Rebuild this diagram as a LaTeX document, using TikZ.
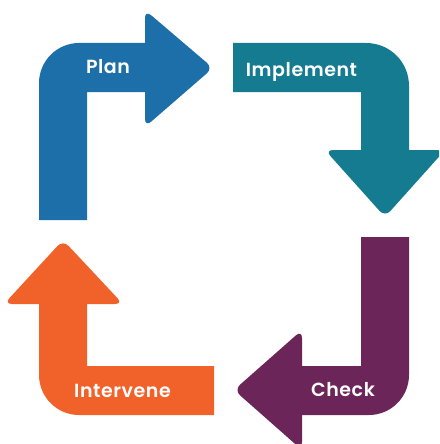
\documentclass[tikz,border=0pt]{standalone}
\usepackage{fontspec}
\setmainfont{Poppins}[LetterSpace=3, BoldFont={Poppins SemiBold}]
\definecolor{planblue}{HTML}{1D6FA9}
\definecolor{impteal}{HTML}{147B90}
\definecolor{chkpurple}{HTML}{6C2558}
\definecolor{intorange}{HTML}{F1622A}
\tikzset{
  headshape/.style={rounded corners=8pt},
  lbl/.style={text=white, font=\fontsize{19}{21}\selectfont\bfseries, inner sep=0pt}
}
\begin{document}
\begin{tikzpicture}[x=1pt,y=-1pt]
\useasboundingbox (0,0) rectangle (439,444);
\clip (0,0) rectangle (439,444);
% Plan
\fill[planblue] (39,220) -- (39,83) .. controls (39,61) and (57,43) .. (79,43) -- (150,43) -- (150,92) -- (87,92) -- (87,220) -- cycle;
\fill[planblue, headshape] (145,68) -- (145,10) -- (213,68) -- (145,127) -- cycle;
% Implement
\fill[impteal] (233,43) -- (366,43) .. controls (390,43) and (409,62) .. (409,86) -- (409,155) -- (361,155) -- (361,92) -- (233,92) -- cycle;
\fill[impteal, headshape] (385,150) -- (445,150) -- (385,217) -- (325,150) -- cycle;
% Check
\fill[chkpurple] (361,237) -- (409,237) -- (409,375) .. controls (409,397) and (391,415) .. (369,415) -- (297,415) -- (297,366) -- (361,366) -- cycle;
\fill[chkpurple, headshape] (302,390) -- (302,330) -- (234,390) -- (302,450) -- cycle;
% Intervene
\fill[intorange] (214,366) -- (214,415) -- (79,415) .. controls (57,415) and (39,397) .. (39,375) -- (39,299) -- (87,299) -- (87,366) -- cycle;
\fill[intorange, headshape] (63,304) -- (123,304) -- (63,240) -- (4,304) -- cycle;
% labels
\node[lbl] (plan) at (108,67) {Plan};
\node[lbl] (impl) at (301.5,71.5) {Implement};
\node[lbl] (check) at (343,390) {Check};
\node[lbl] (interv) at (122.5,390.5) {Intervene};
\end{tikzpicture}
\end{document}
